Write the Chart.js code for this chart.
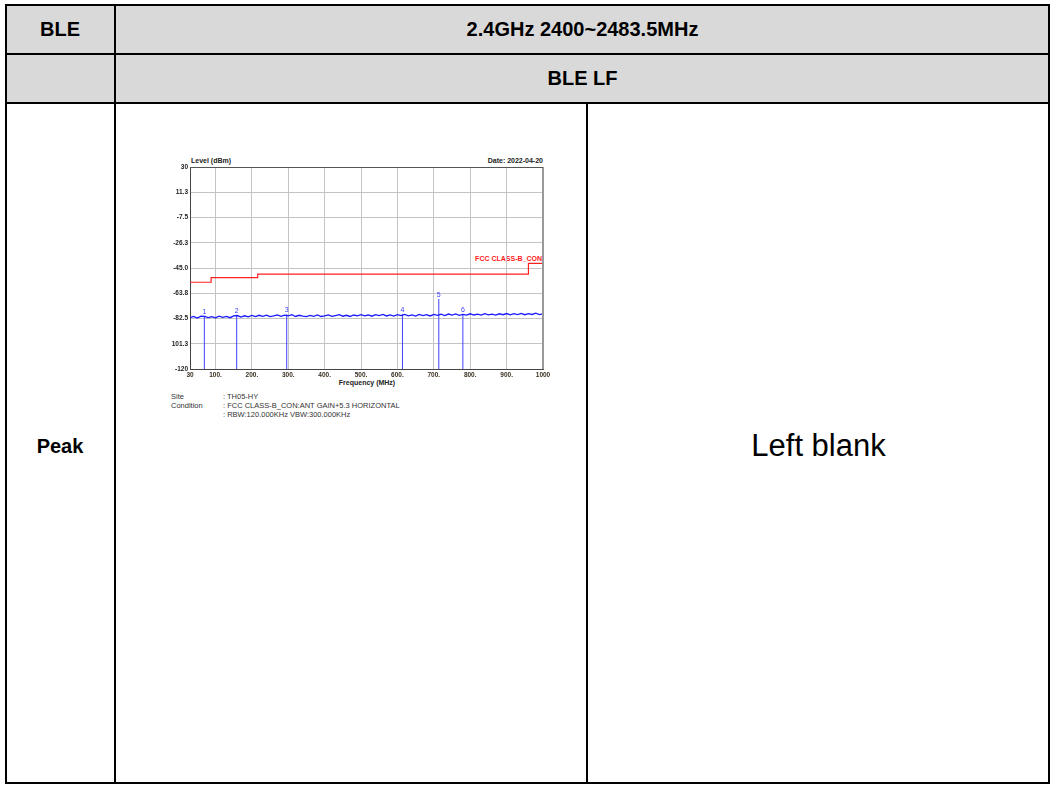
<!DOCTYPE html>
<html>
<head>
<meta charset="utf-8">
<script src="https://cdn.jsdelivr.net/npm/chart.js@4.4.1/dist/chart.umd.min.js"></script>
<style>
  html, body { margin: 0; padding: 0; background: #fff; }
  body { width: 1051px; height: 787px; position: relative; overflow: hidden; font-family: "Liberation Sans", Arial, sans-serif; }
  .abs { position: absolute; }
  .line { position: absolute; background: #000; }
  .cell { position: absolute; display: flex; align-items: center; justify-content: center; color: #000; }
  .hdr { font-weight: bold; font-size: 20px; }
  .small { position: absolute; font-size: 7.5px; color: #333; white-space: nowrap; line-height: 9px; }
  .axt { position: absolute; font-size: 7px; font-weight: bold; color: #222; white-space: nowrap; }
</style>
</head>
<body>
<!-- table -->
<div class="abs" style="left:5px;top:5px;width:1044px;height:97px;background:#d9d9d9;"></div>
<div class="abs" style="left:5px;top:4px;width:1045px;height:780px;border:2px solid #000;box-sizing:border-box;"></div>
<div class="line" style="left:5px;top:53px;width:1045px;height:2px;"></div>
<div class="line" style="left:5px;top:102px;width:1045px;height:2px;"></div>
<div class="line" style="left:114px;top:4px;width:2px;height:780px;"></div>
<div class="line" style="left:586px;top:102px;width:2px;height:682px;"></div>

<div class="cell hdr" style="left:6px;top:6px;width:108px;height:47px;">BLE</div>
<div class="cell hdr" style="left:116px;top:6px;width:933px;height:47px;">2.4GHz 2400~2483.5MHz</div>
<div class="cell hdr" style="left:116px;top:55px;width:933px;height:47px;">BLE LF</div>
<div class="cell hdr" style="left:6px;top:430px;width:108px;height:32px;">Peak</div>
<div class="cell" style="left:588px;top:428px;width:461px;height:36px;font-size:31px;">Left blank</div>

<!-- chart texts -->
<div class="axt" style="left:191px;top:157px;">Level (dBm)</div>
<div class="axt" style="left:443px;top:157px;width:100px;text-align:right;">Date: 2022-04-20</div>
<div class="axt" style="left:317px;top:379px;width:100px;text-align:center;">Frequency (MHz)</div>
<div class="axt" style="left:442px;top:255px;width:100px;text-align:right;color:#ff1a1a;">FCC CLASS-B_CON</div>

<div class="small" style="left:171px;top:392px;">Site</div>
<div class="small" style="left:223px;top:392px;">: TH05-HY</div>
<div class="small" style="left:171px;top:401px;">Condition</div>
<div class="small" style="left:223px;top:401px;">: FCC CLASS-B_CON:ANT GAIN+5.3 HORIZONTAL</div>
<div class="small" style="left:223px;top:410px;">: RBW:120.000KHz VBW:300.000KHz</div>

<canvas id="c" width="395" height="233" style="position:absolute;left:160px;top:150px;width:395px;height:233px;"></canvas>

<script>
// ---- data ----
const xTickValues = [30, 100, 200, 300, 400, 500, 600, 700, 800, 900, 1000];
const xTickLabels = ["30", "100.", "200.", "300.", "400.", "500.", "600.", "700.", "800.", "900.", "1000"];
const yTickValues = [30, 11.25, -7.5, -26.25, -45, -63.75, -82.5, -101.25, -120];
const yTickLabels = ["30", "11.3", "-7.5", "-26.3", "-45.0", "-63.8", "-82.5", "101.3", "-120"];

const limitFreqs  = [30, 88, 216, 960, 1000];
const limitLevels = [-55.6, -52.1, -49.6, -41.6, -41.6];

const traceFreqs = [30,40,50,60,70,80,90,100,110,120,130,140,150,160,170,180,190,200,210,220,
  230,240,250,260,270,280,290,300,310,320,330,340,350,360,370,380,390,400,410,420,
  430,440,450,460,470,480,490,500,510,520,530,540,550,560,570,580,590,600,610,620,
  630,640,650,660,670,680,690,700,710,720,730,740,750,760,770,780,790,800,810,820,
  830,840,850,860,870,880,890,900,910,920,930,940,950,960,970,980,990,1000];
const traceLevels = [-81.9,-81.0,-82.2,-80.8,-80.9,-81.8,-81.1,-82.0,-80.7,-81.6,
  -80.9,-81.9,-80.6,-80.3,-81.5,-80.5,-81.3,-80.2,-81.1,-80.1,
  -80.9,-80.0,-81.1,-80.5,-79.8,-80.9,-80.0,-80.6,-79.7,-81.0,
  -80.1,-80.8,-81.1,-80.2,-80.9,-79.9,-81.0,-80.6,-79.8,-80.9,
  -80.3,-79.7,-80.8,-80.1,-81.0,-79.9,-80.6,-79.6,-80.5,-79.9,
  -80.8,-79.7,-80.4,-79.5,-80.6,-79.8,-80.7,-79.6,-80.3,-79.4,
  -80.5,-79.8,-80.7,-79.5,-80.3,-79.7,-80.6,-79.5,-80.2,-79.3,
  -80.3,-79.2,-80.0,-79.1,-80.2,-79.4,-80.0,-79.0,-79.9,-79.2,
  -80.0,-78.9,-79.8,-79.3,-80.0,-79.0,-79.7,-78.8,-79.8,-78.9,
  -79.6,-78.7,-79.7,-78.9,-79.5,-78.6,-79.6,-79.0];

const markerNames  = ["1", "2", "3", "4", "5", "6"];
const markerFreqs  = [69.4, 158.3, 295.8, 613.8, 713.7, 779.8];
const markerLevels = [-80.6, -80.2, -79.4, -79.3, -68.0, -79.2];
const floorLevel = -120;

// ---- build datasets ----
const limitData = limitFreqs.map((f, i) => ({x: f, y: limitLevels[i]}));
const traceData = traceFreqs.map((f, i) => ({x: f, y: traceLevels[i]}));
const markerData = [];
markerFreqs.forEach((f, i) => {
  markerData.push({x: f, y: floorLevel});
  markerData.push({x: f, y: markerLevels[i]});
  markerData.push({x: f, y: null});
});

const frame = {
  id: 'frame',
  afterDatasetsDraw(chart) {
    const a = chart.chartArea, ctx = chart.ctx;
    ctx.save();
    ctx.strokeStyle = '#999';
    ctx.lineWidth = 2;
    ctx.beginPath(); ctx.moveTo(a.right, a.top); ctx.lineTo(a.right, a.bottom); ctx.stroke();
    ctx.strokeStyle = '#555';
    ctx.lineWidth = 1;
    ctx.beginPath(); ctx.moveTo(a.left, a.top + 0.5); ctx.lineTo(a.right, a.top + 0.5); ctx.stroke();
    // marker labels
    const xs = chart.scales.x, ys = chart.scales.y;
    ctx.fillStyle = '#3b3bff';
    ctx.font = '7px "Liberation Sans", Arial';
    ctx.textAlign = 'center';
    ctx.textBaseline = 'alphabetic';
    markerNames.forEach((n, i) => {
      ctx.fillText(n, xs.getPixelForValue(markerFreqs[i]), ys.getPixelForValue(markerLevels[i]) - 2);
    });
    ctx.restore();
  }
};

new Chart(document.getElementById('c'), {
  type: 'line',
  data: {
    datasets: [
      { data: limitData, borderColor: '#ff2020', borderWidth: 1.2, stepped: true, pointRadius: 0, fill: false },
      { data: traceData, borderColor: '#1a1aff', borderWidth: 1.3, pointRadius: 0, tension: 0, fill: false },
      { data: markerData, borderColor: '#4040ff', borderWidth: 1, pointRadius: 0, spanGaps: false, fill: false }
    ]
  },
  options: {
    responsive: false,
    devicePixelRatio: 1,
    animation: false,
    events: [],
    layout: { padding: { top: 17, right: 12, left: 0, bottom: 0 } },
    plugins: { legend: { display: false }, tooltip: { enabled: false } },
    scales: {
      x: {
        type: 'linear', min: 30, max: 1000,
        afterBuildTicks: s => { s.ticks = xTickValues.map(v => ({value: v})); },
        afterFit: s => { s.height = 14; },
        ticks: {
          autoSkip: false, maxRotation: 0, padding: 2,
          color: '#3a3020',
          font: { family: '"Liberation Sans", Arial', size: 6.5, weight: 'bold' },
          callback: (v, i) => xTickLabels[i]
        },
        grid: { color: '#c4c4c4', lineWidth: 1, drawTicks: false },
        border: { color: '#444', width: 1 }
      },
      y: {
        type: 'linear', min: -120, max: 30,
        afterBuildTicks: s => { s.ticks = yTickValues.map(v => ({value: v})); },
        afterFit: s => { s.width = 30; },
        ticks: {
          autoSkip: false, padding: 2,
          color: '#222',
          font: { family: '"Liberation Sans", Arial', size: 6.5, weight: 'bold' },
          callback: (v, i) => yTickLabels[i]
        },
        grid: { color: '#c4c4c4', lineWidth: 1, drawTicks: false },
        border: { color: '#444', width: 1 }
      }
    }
  },
  plugins: [frame]
});
</script>
</body>
</html>
